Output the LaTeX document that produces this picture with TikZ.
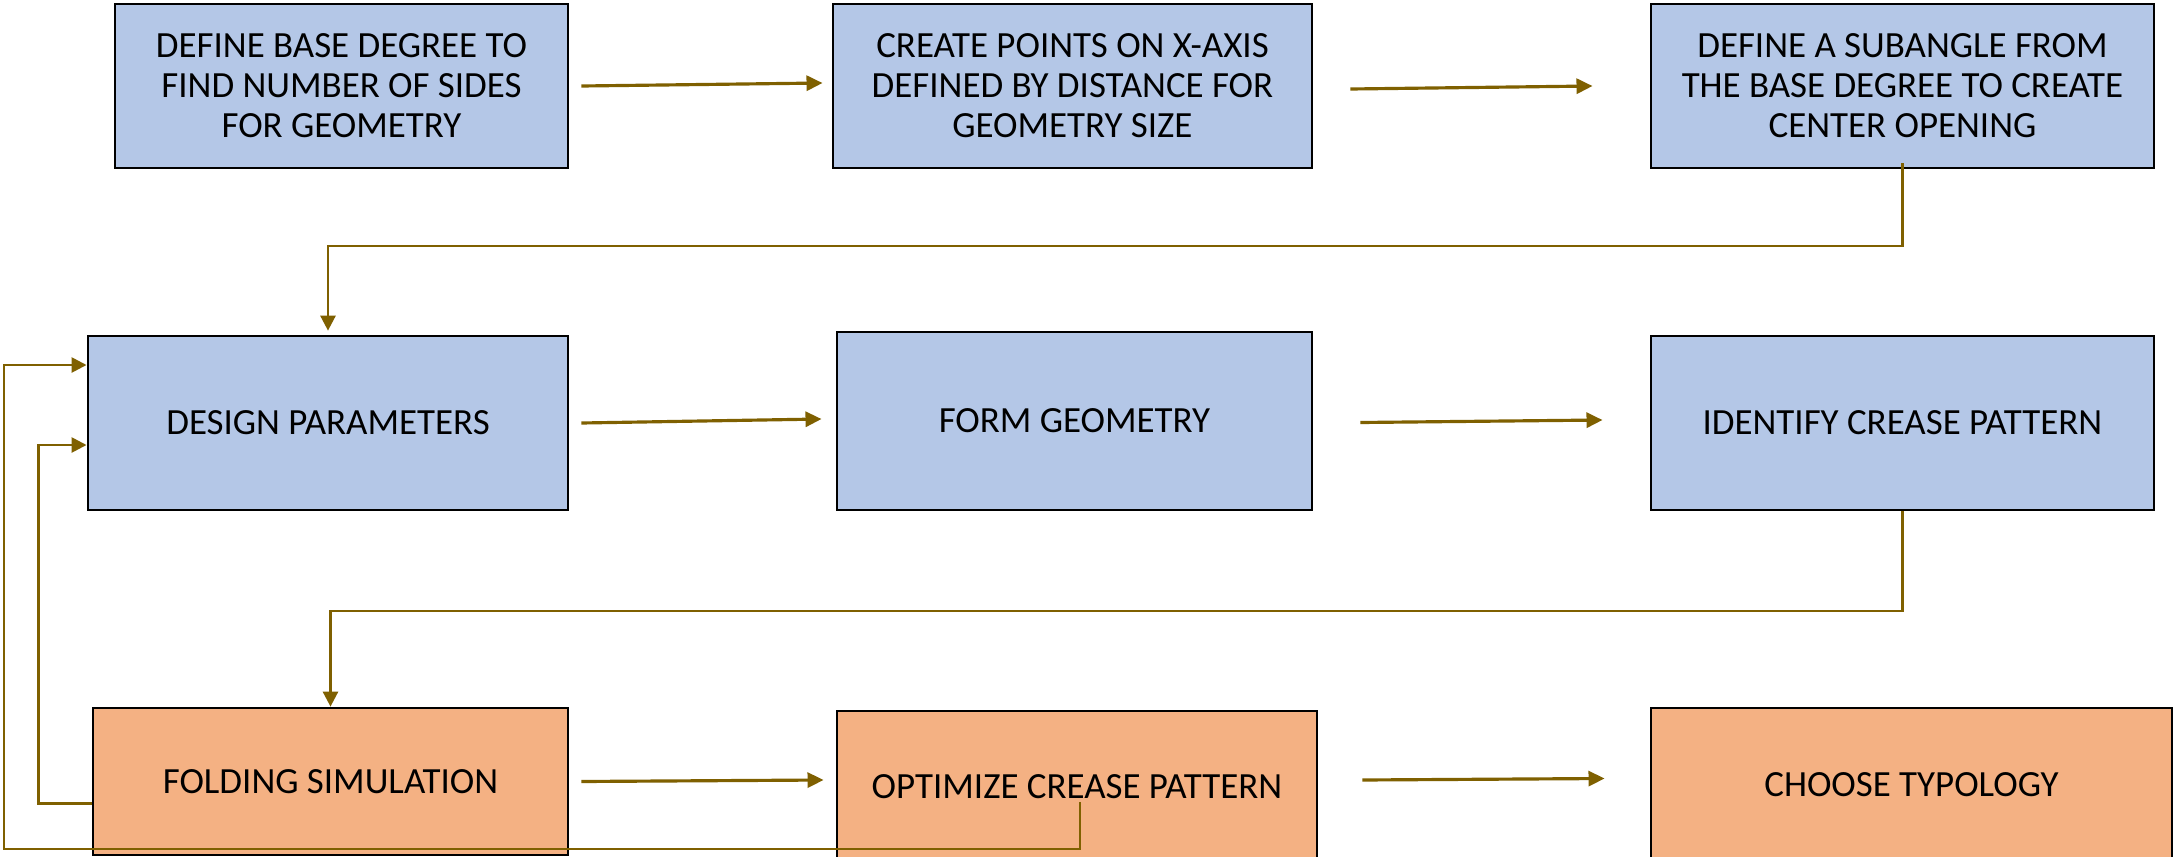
\documentclass[tikz,border=0pt]{standalone}
\usepackage{fontspec}
\setmainfont{Carlito}
\usetikzlibrary{arrows.meta,calc}
\definecolor{boxblue}{HTML}{B4C7E7}
\definecolor{boxorange}{HTML}{F4B183}
\definecolor{arrowgold}{HTML}{7F6000}
\begin{document}
\begin{tikzpicture}[x=0.01cm,y=-0.01cm,
  stepbox/.style={draw=black,line width=0.75pt,rectangle,inner sep=0pt,align=center,
    font=\fontsize{10.5}{11.4}\selectfont,text=black},
  bluebox/.style={stepbox,fill=boxblue},
  orangebox/.style={stepbox,fill=boxorange},
  arr/.style={draw=arrowgold,line width=0.9pt,-{Triangle[length=0.16cm,width=0.15cm]}},
  conn/.style={draw=arrowgold,line width=0.75pt,-{Triangle[length=0.15cm,width=0.15cm]}}
]
\useasboundingbox (0,0) rectangle (2177,857);
\fill[white] (0,0) rectangle (2177,857);

% row 1
\node[bluebox,minimum width=4.53cm,minimum height=1.64cm] (B1) at (341.5,86)
  {DEFINE BASE DEGREE TO\\FIND NUMBER OF SIDES\\FOR GEOMETRY};
\node[bluebox,minimum width=4.79cm,minimum height=1.64cm] (B2) at (1072.5,86)
  {CREATE POINTS ON X-AXIS\\DEFINED BY DISTANCE FOR\\GEOMETRY SIZE};
\node[bluebox,minimum width=5.03cm,minimum height=1.64cm] (B3) at (1902.5,86)
  {DEFINE A SUBANGLE FROM\\THE BASE DEGREE TO CREATE\\CENTER OPENING};

% row 2
\node[bluebox,minimum width=4.80cm,minimum height=1.74cm] (B4) at (328,423)
  {DESIGN PARAMETERS};
\node[bluebox,minimum width=4.75cm,minimum height=1.78cm] (B5) at (1074.5,421)
  {FORM GEOMETRY};
\node[bluebox,minimum width=5.03cm,minimum height=1.74cm] (B6) at (1902.5,423)
  {IDENTIFY CREASE PATTERN};

% row 3
\node[orangebox,minimum width=4.75cm,minimum height=1.47cm] (B7) at (330.5,781.5)
  {FOLDING SIMULATION};
\node[orangebox,minimum width=4.80cm,minimum height=1.52cm] (B8) at (1077,787)
  {OPTIMIZE CREASE PATTERN};
\node[orangebox,minimum width=5.21cm,minimum height=1.54cm] (B9) at (1911.5,785)
  {CHOOSE TYPOLOGY};

% straight arrows
\draw[arr] ($(B1.east)+(12,0)$) -- ($(B2.west)+(-9,-3)$);
\draw[arr] ($(B2.east)+(37,3)$) -- ($(B3.west)+(-57,0)$);
\draw[arr] ($(B4.east)+(12,0)$) -- ($(B5.west)+(-14,-2)$);
\draw[arr] ($(B5.east)+(47,1.5)$) -- ($(B6.west)+(-47,-3)$);
\draw[arr] ($(B7.east)+(12,0)$) -- ($(B8.west)+(-12,-7)$);
\draw[arr] ($(B8.east)+(44,-7)$) -- ($(B9.west)+(-45,-6.5)$);

% elbow connectors
\coordinate (k1) at (0,246);
\coordinate (k2) at (0,611);
\draw[conn] ($(B3.south)+(0,-6)$) |- (k1 -| B4.north) -- ($(B4.north)+(0,-4)$);
\draw[conn] (B6.south) |- (k2 -| B7.north) -- (B7.north);

% feedback loops
\draw[conn] ($(B7.west)+(0,22)$) -- ++(-53,0) |- ($(B4.west)+(0,22)$);
\coordinate (lb) at (4,849);
\draw[conn] ($(B8.center)+(3,15)$) |- (lb) |- ($(B4.west)+(0,-58)$);
\end{tikzpicture}
\end{document}
